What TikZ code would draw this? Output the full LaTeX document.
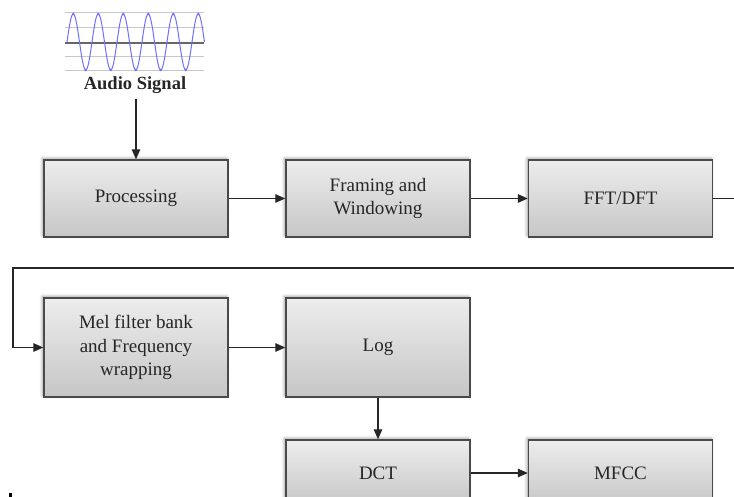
\documentclass[tikz,border=0pt]{standalone}
\usepackage{fontspec}
\setmainfont{Liberation Serif}
\usetikzlibrary{arrows.meta,shadows.blur}
\definecolor{boxtop}{HTML}{EDEDED}
\definecolor{boxbot}{HTML}{C6C6C6}
\definecolor{boxline}{HTML}{4A4A4A}
\definecolor{wave}{HTML}{6E6EFF}
\definecolor{gridl}{HTML}{C8C8C8}
\definecolor{txt}{HTML}{262626}
\tikzset{
  block/.style={draw=boxline, line width=1.4pt, top color=boxtop, bottom color=boxbot,
    minimum width=184pt, inner sep=0pt, align=center, text=txt,
    font=\fontsize{19}{23.5}\selectfont,
    blur shadow={shadow xshift=-1.5pt, shadow yshift=1.5pt, shadow blur radius=3pt, shadow opacity=40}},
  conn/.style={draw=black!85, line width=1.3pt},
  arr/.style={conn, -{Triangle[length=10pt,width=8.5pt]}},
}
\begin{document}
\begin{tikzpicture}[x=1pt,y=-1pt]
\useasboundingbox (0,0) rectangle (734,497);
\clip (0,0) rectangle (734,497);
% signal icon
\foreach \yy in {13,28,57,71} \draw[gridl, line width=1pt] (65,\yy) -- (204,\yy);
\draw[gray!80!black, line width=2pt] (65,43) -- (204,43);
\draw[wave, line width=1pt] plot[domain=0:137.5, samples=300] ({67+\x}, {42-28*sin(14.4*\x)});
\foreach \k in {0,...,5} \fill[wave] ({73.25+25*\k},14) circle (1.4pt);
\foreach \k in {0,...,4} \fill[wave] ({85.75+25*\k},70) circle (1.4pt);
\node[font=\bfseries\fontsize{18.5}{21}\selectfont, text=txt, inner sep=1pt] (audio) at (135,85) {Audio Signal};
% row 1
\node[block, minimum height=77pt] (proc) at (136,198.5) {Processing};
\node[block, minimum height=77pt] (fram) at (378,198.5) {Framing and\\Windowing};
\node[block, minimum height=77pt] (fft) at (620.5,198.5) {FFT/DFT};
% row 2
\node[block, minimum height=99pt] (mel) at (136,347.5) {Mel filter bank\\and Frequency\\wrapping};
\node[block, minimum height=99pt] (log) at (378,347.5) {Log};
% row 3
\node[block, minimum height=66pt] (dct) at (378,473) {DCT};
\node[block, minimum height=66pt] (mfcc) at (620.5,473) {MFCC};
% connectors
\coordinate (r1) at (736,198.5);
\coordinate (r2) at (736,268);
\coordinate (l2) at (13,268);
\coordinate (l3) at (13,347.5);
\draw[arr] (audio.south -| proc.north) ++(0,4) -- (proc.north);
\draw[arr] (proc) -- (fram);
\draw[arr] (fram) -- (fft);
\draw[conn] (fft.east) -- (r1);
\draw[arr] (r2) -- (l2) -- (l3) -- (mel.west);
\draw[arr] (mel) -- (log);
\draw[arr] (log) -- (dct);
\draw[arr] (dct) -- (mfcc);
% stray mark
\fill[black] (9,493) rectangle (11.5,497);
\end{tikzpicture}
\end{document}
